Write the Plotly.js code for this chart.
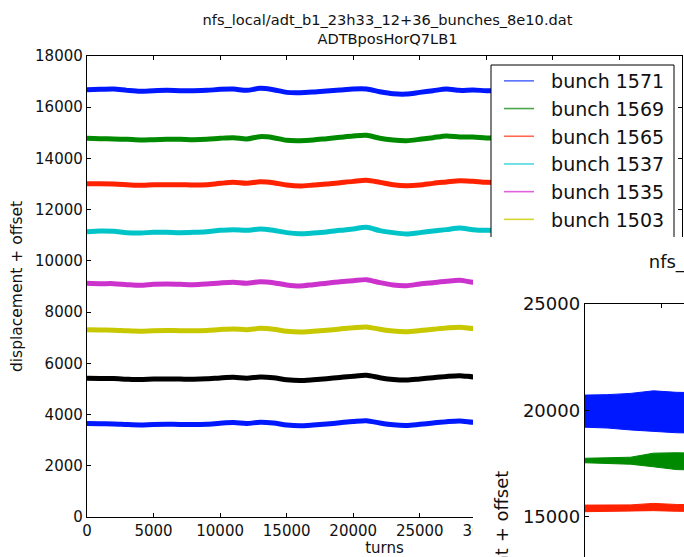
<!DOCTYPE html>
<html>
<head>
<meta charset="utf-8">
<script src="https://cdn.plot.ly/plotly-3.0.1.min.js"></script>
<style>
  html, body { margin: 0; padding: 0; overflow: hidden; background: #fff; }
  #main { position: absolute; left: 0; top: 0; width: 684px; height: 557px; }
  #inset { position: absolute; left: 473px; top: 237px; width: 710px; height: 659px; z-index: 2; background: #fff; }
</style>
</head>
<body>
<div id="main"></div>
<div id="inset"></div>
<script>
// ---------- main chart data ----------
const turns = [0,1000,2000,3000,4000,5000,6000,7000,8000,9000,10000,11000,12000,13000,14000,15000,
               16000,17000,18000,19000,20000,21000,22000,23000,24000,25000,26000,27000,28000,29000,30000,31000];
const bunchNames = ["bunch 1571","bunch 1569","bunch 1565","bunch 1537","bunch 1535","bunch 1503","bunch 1501","bunch 1499"];
const b1571 = [16684,16697,16710,16658,16619,16645,16658,16645,16645,16658,16697,16710,16658,16736,16684,16580,
               16567,16593,16632,16671,16710,16710,16606,16528,16515,16580,16645,16710,16658,16671,16645,16650];
const b1569 = [14786,14773,14760,14747,14721,14734,14747,14747,14734,14747,14786,14812,14760,14851,14812,14708,
               14695,14721,14773,14825,14877,14903,14786,14721,14695,14747,14812,14877,14838,14838,14799,14800];
const b1565 = [13014,13014,13001,12975,12949,12975,12975,12975,12962,12975,13027,13066,13027,13092,13053,12962,
               12923,12962,13001,13053,13105,13144,13066,12975,12936,12962,13027,13079,13131,13105,13066,13060];
const b1537 = [11142,11168,11155,11103,11090,11116,11116,11103,11116,11142,11194,11220,11194,11246,11194,11103,
               11064,11090,11129,11194,11246,11311,11181,11103,11051,11103,11168,11220,11285,11220,11194,11190];
const b1535 = [9124,9111,9111,9072,9046,9085,9098,9085,9072,9098,9137,9163,9124,9189,9150,9059,
               9020,9072,9124,9189,9228,9267,9150,9059,9033,9098,9150,9202,9241,9163,9150,9150];
const b1503 = [7310,7300,7295,7270,7255,7275,7280,7275,7270,7285,7320,7345,7310,7365,7330,7250,
               7220,7250,7290,7340,7390,7420,7330,7260,7235,7280,7330,7380,7410,7360,7340,7340];
const b1501 = [5420,5410,5405,5380,5365,5385,5390,5385,5380,5395,5430,5455,5420,5470,5440,5360,
               5330,5360,5400,5450,5500,5530,5440,5370,5345,5390,5440,5490,5520,5470,5450,5450];
const b1499 = [3650,3640,3635,3610,3595,3615,3620,3615,3610,3625,3660,3685,3650,3700,3670,3590,
               3560,3590,3630,3680,3730,3760,3670,3600,3575,3620,3670,3720,3750,3700,3680,3680];
const mainSeries = [b1571,b1569,b1565,b1537,b1535,b1503,b1501,b1499];
const colors = ["#0018ff","#008a00","#ff2200","#00c4c8","#cc33cc","#c8c800","#000000","#0018ff"];
const legendColors = ["#5a70ff","#4aa64a","#ff6a50","#4cd8dc","#e060e0","#d6d630","#555555","#5a70ff"];

const yTicks = [0,2000,4000,6000,8000,10000,12000,14000,16000,18000];
const xTicks = [0,5000,10000,15000,20000,25000,30000,35000,40000];
const xTickText = ["0","5000","10000","15000","20000","25000","30000","",""];

// ---------- inset chart data ----------
const turns2 = [0,1500,3000,4500,6000,7500];
const blueHi  = [20720,20740,20800,20920,20850,20830];
const blueLo  = [19210,19170,19080,19000,18950,18930];
const greenHi = [17750,17760,17800,17990,18010,17990];
const greenLo = [17540,17520,17470,17350,17220,17190];
const redHi   = [15550,15550,15560,15630,15580,15570];
const redLo   = [15240,15250,15260,15290,15260,15250];
const yTicks2 = [0,5000,10000,15000,20000,25000];

const FONT = "DejaVu Sans, Verdana, sans-serif";

// ---------- main figure ----------
const traces = mainSeries.map((ys, i) => ({
  x: turns, y: ys, type: "scatter", mode: "lines", name: bunchNames[i], showlegend: false,
  line: {color: colors[i], width: 5, shape: "spline", smoothing: 0.8}
}));
// legend entries (thin, lighter sample lines as in the reference legend)
bunchNames.forEach((nm, i) => traces.push({
  x: [null], y: [null], type: "scatter", mode: "lines", showlegend: true,
  name: "\u00a0\u00a0" + nm, line: {color: legendColors[i], width: 1.6}
}));

const axisCommon = {
  showgrid: false, zeroline: false, showline: true, linecolor: "#000", linewidth: 1.2,
  mirror: "ticks", ticks: "inside", ticklen: 4, tickwidth: 1, tickcolor: "#000",
  tickformat: "d", tickfont: {family: FONT, size: 15, color: "#111"}
};

const px2paperX = p => (p - 87) / 595;
const px2paperY = p => 1 - (p - 56) / 461;

const layout = {
  width: 684, height: 557,
  margin: {l: 87, r: 2, t: 56, b: 40, pad: 0},
  paper_bgcolor: "#fff", plot_bgcolor: "#fff",
  font: {family: FONT, color: "#111"},
  title: {
    text: "nfs_local/adt_b1_23h33_12+36_bunches_8e10.dat<br>ADTBposHorQ7LB1",
    font: {family: FONT, size: 14.6, color: "#111"},
    x: 0.5665, xanchor: "center", xref: "container",
    y: 0.9555, yanchor: "middle", yref: "container"
  },
  xaxis: Object.assign({}, axisCommon, {
    range: [0, 44700], tickvals: xTicks, ticktext: xTickText,
    title: {text: "turns", font: {family: FONT, size: 15, color: "#111"}, standoff: 2}
  }),
  yaxis: Object.assign({}, axisCommon, {
    range: [0, 18000], tickvals: yTicks,
    title: {text: "displacement + offset", font: {family: FONT, size: 15.5, color: "#111"}, standoff: 8}
  }),
  shapes: [{
    type: "rect", xref: "paper", yref: "paper", layer: "above",
    x0: px2paperX(491), x1: px2paperX(674), y0: px2paperY(300), y1: px2paperY(65),
    line: {color: "#000", width: 1}, fillcolor: "#fff"
  }],
  showlegend: true,
  legend: {
    x: px2paperX(499), y: px2paperY(62), xanchor: "left", yanchor: "top",
    bgcolor: "rgba(0,0,0,0)", borderwidth: 0,
    font: {family: FONT, size: 19, color: "#111"},
    itemwidth: 30
  }
};

Plotly.newPlot("main", traces, layout, {staticPlot: true, displayModeBar: false});

// ---------- inset figure ----------
function band(lo, hi, color) {
  return [
    {x: turns2, y: lo, type: "scatter", mode: "lines", line: {color: color, width: 1}, showlegend: false},
    {x: turns2, y: hi, type: "scatter", mode: "lines", line: {color: color, width: 1}, fill: "tonexty", fillcolor: color, showlegend: false}
  ];
}
const insetTraces = [].concat(
  band(blueLo, blueHi, "#0018ff"),
  band(greenLo, greenHi, "#008a00"),
  band(redLo, redHi, "#ff2200")
);

const axis2 = Object.assign({}, axisCommon, {tickfont: {family: FONT, size: 18, color: "#111"}});
const layout2 = {
  width: 710, height: 659,
  margin: {l: 112, r: 20, t: 67, b: 60, pad: 0},
  paper_bgcolor: "#fff", plot_bgcolor: "#fff",
  font: {family: FONT, color: "#111"},
  title: {
    text: "nfs_local/adt_b1_23h33_12+36_bunches_8e10.dat",
    font: {family: FONT, size: 18, color: "#111"},
    x: 0.505, xanchor: "center", xref: "paper",
    y: 1 - 25/659, yanchor: "middle", yref: "container"
  },
  xaxis: Object.assign({}, axis2, {range: [0, 38000], dtick: 5000}),
  yaxis: Object.assign({}, axis2, {
    range: [0, 25000], tickvals: yTicks2,
    title: {text: "displacement + offset", font: {family: FONT, size: 18, color: "#111"}, standoff: 9}
  }),
  showlegend: false
};
Plotly.newPlot("inset", insetTraces, layout2, {staticPlot: true, displayModeBar: false});
</script>
</body>
</html>
